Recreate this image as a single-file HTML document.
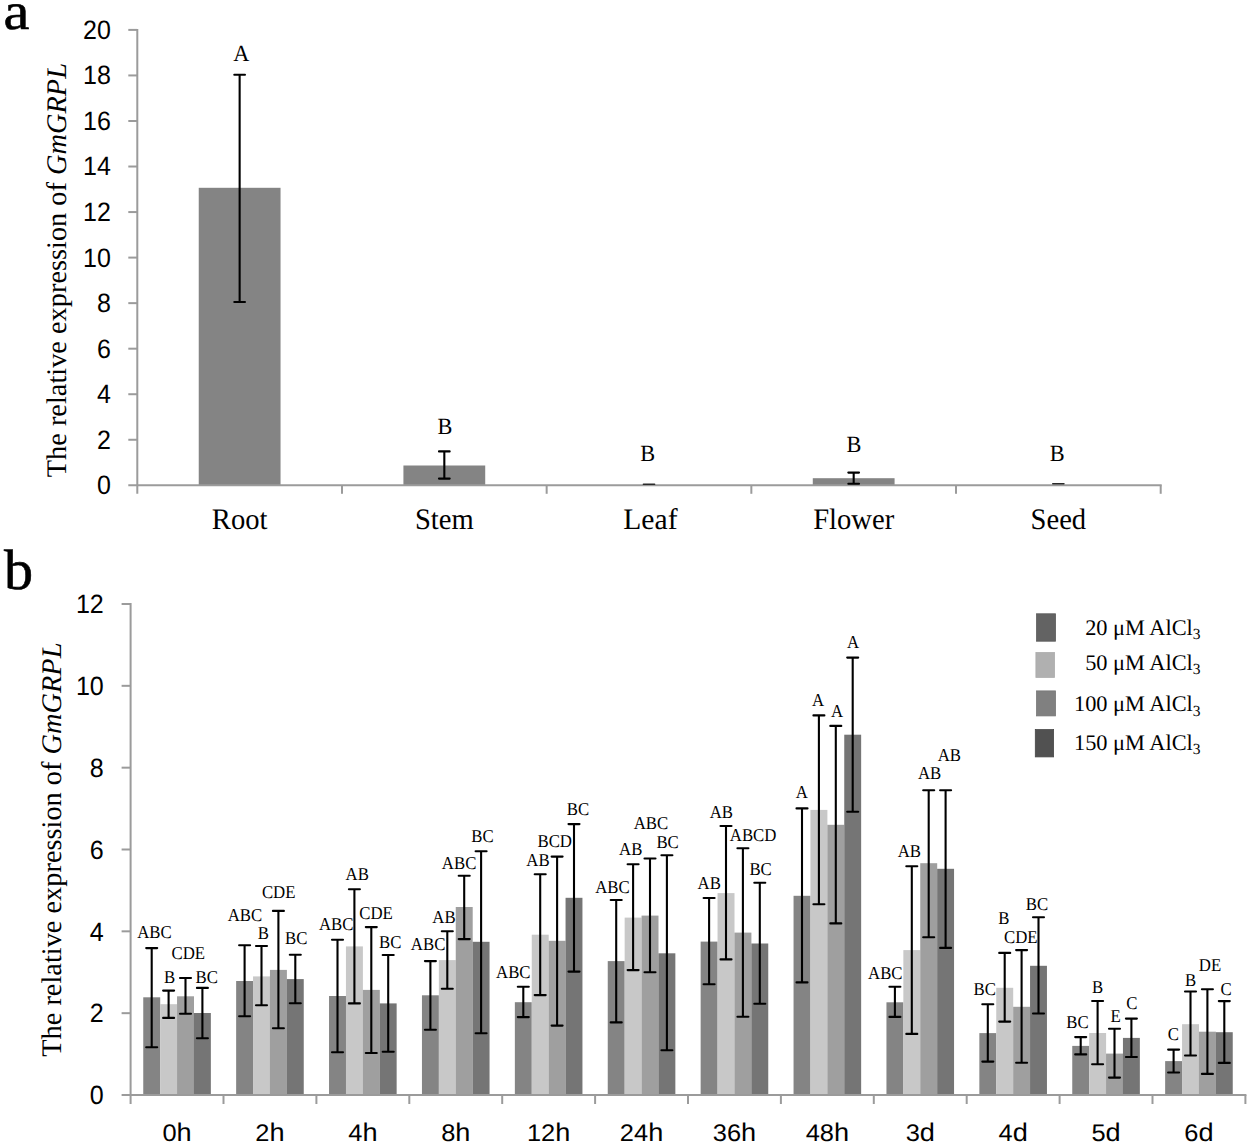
<!DOCTYPE html>
<html><head><meta charset="utf-8"><title>GmGRPL expression</title>
<style>
html,body{margin:0;padding:0;background:#fff;overflow:hidden;}
svg{display:block;}
text{fill:#000;text-rendering:geometricPrecision;}
</style></head>
<body>
<svg width="1250" height="1145" viewBox="0 0 1250 1145">
<rect x="0" y="0" width="1250" height="1145" fill="#ffffff"/>
<rect x="198.74" y="187.80" width="81.80" height="297.50" fill="#848484"/>
<rect x="403.42" y="465.50" width="81.80" height="19.80" fill="#848484"/>
<rect x="812.78" y="478.20" width="81.80" height="7.10" fill="#848484"/>
<line x1="137.30" y1="28.90" x2="137.30" y2="493.80" stroke="#9b9b9b" stroke-width="2.0"/>
<line x1="128.30" y1="485.30" x2="1161.70" y2="485.30" stroke="#9b9b9b" stroke-width="2.0"/>
<text transform="translate(110.90,494.20) scale(0.94,1)" font-family='"Liberation Sans", sans-serif' font-size="26.6" text-anchor="end">0</text>
<line x1="128.30" y1="439.76" x2="137.30" y2="439.76" stroke="#9b9b9b" stroke-width="2.0"/>
<text transform="translate(110.90,448.66) scale(0.94,1)" font-family='"Liberation Sans", sans-serif' font-size="26.6" text-anchor="end">2</text>
<line x1="128.30" y1="394.22" x2="137.30" y2="394.22" stroke="#9b9b9b" stroke-width="2.0"/>
<text transform="translate(110.90,403.12) scale(0.94,1)" font-family='"Liberation Sans", sans-serif' font-size="26.6" text-anchor="end">4</text>
<line x1="128.30" y1="348.68" x2="137.30" y2="348.68" stroke="#9b9b9b" stroke-width="2.0"/>
<text transform="translate(110.90,357.58) scale(0.94,1)" font-family='"Liberation Sans", sans-serif' font-size="26.6" text-anchor="end">6</text>
<line x1="128.30" y1="303.14" x2="137.30" y2="303.14" stroke="#9b9b9b" stroke-width="2.0"/>
<text transform="translate(110.90,312.04) scale(0.94,1)" font-family='"Liberation Sans", sans-serif' font-size="26.6" text-anchor="end">8</text>
<line x1="128.30" y1="257.60" x2="137.30" y2="257.60" stroke="#9b9b9b" stroke-width="2.0"/>
<text transform="translate(110.90,266.50) scale(0.94,1)" font-family='"Liberation Sans", sans-serif' font-size="26.6" text-anchor="end">10</text>
<line x1="128.30" y1="212.06" x2="137.30" y2="212.06" stroke="#9b9b9b" stroke-width="2.0"/>
<text transform="translate(110.90,220.96) scale(0.94,1)" font-family='"Liberation Sans", sans-serif' font-size="26.6" text-anchor="end">12</text>
<line x1="128.30" y1="166.52" x2="137.30" y2="166.52" stroke="#9b9b9b" stroke-width="2.0"/>
<text transform="translate(110.90,175.42) scale(0.94,1)" font-family='"Liberation Sans", sans-serif' font-size="26.6" text-anchor="end">14</text>
<line x1="128.30" y1="120.98" x2="137.30" y2="120.98" stroke="#9b9b9b" stroke-width="2.0"/>
<text transform="translate(110.90,129.88) scale(0.94,1)" font-family='"Liberation Sans", sans-serif' font-size="26.6" text-anchor="end">16</text>
<line x1="128.30" y1="75.44" x2="137.30" y2="75.44" stroke="#9b9b9b" stroke-width="2.0"/>
<text transform="translate(110.90,84.34) scale(0.94,1)" font-family='"Liberation Sans", sans-serif' font-size="26.6" text-anchor="end">18</text>
<line x1="128.30" y1="29.90" x2="137.30" y2="29.90" stroke="#9b9b9b" stroke-width="2.0"/>
<text transform="translate(110.90,38.80) scale(0.94,1)" font-family='"Liberation Sans", sans-serif' font-size="26.6" text-anchor="end">20</text>
<line x1="341.98" y1="485.30" x2="341.98" y2="493.80" stroke="#9b9b9b" stroke-width="2.0"/>
<line x1="546.66" y1="485.30" x2="546.66" y2="493.80" stroke="#9b9b9b" stroke-width="2.0"/>
<line x1="751.34" y1="485.30" x2="751.34" y2="493.80" stroke="#9b9b9b" stroke-width="2.0"/>
<line x1="956.02" y1="485.30" x2="956.02" y2="493.80" stroke="#9b9b9b" stroke-width="2.0"/>
<line x1="1160.70" y1="485.30" x2="1160.70" y2="493.80" stroke="#9b9b9b" stroke-width="2.0"/>
<line x1="239.64" y1="74.80" x2="239.64" y2="302.00" stroke="#000" stroke-width="2.1"/>
<line x1="234.29" y1="74.80" x2="244.99" y2="74.80" stroke="#000" stroke-width="2.1" stroke-linecap="round"/>
<line x1="234.29" y1="302.00" x2="244.99" y2="302.00" stroke="#000" stroke-width="2.1" stroke-linecap="round"/>
<text transform="translate(241.20,60.90) scale(1,1.04)" font-family='"Liberation Serif", serif' font-size="22.3" text-anchor="middle">A</text>
<text transform="translate(239.64,529.20) scale(1,1.04)" font-family='"Liberation Serif", serif' font-size="28.6" text-anchor="middle">Root</text>
<line x1="444.32" y1="451.40" x2="444.32" y2="478.60" stroke="#000" stroke-width="2.1"/>
<line x1="438.97" y1="451.40" x2="449.67" y2="451.40" stroke="#000" stroke-width="2.1" stroke-linecap="round"/>
<line x1="438.97" y1="478.60" x2="449.67" y2="478.60" stroke="#000" stroke-width="2.1" stroke-linecap="round"/>
<text transform="translate(445.00,433.60) scale(1,1.04)" font-family='"Liberation Serif", serif' font-size="22.3" text-anchor="middle">B</text>
<text transform="translate(444.32,529.20) scale(1,1.04)" font-family='"Liberation Serif", serif' font-size="28.6" text-anchor="middle">Stem</text>
<line x1="643.40" y1="484.30" x2="654.60" y2="484.30" stroke="#2a2a2a" stroke-width="1.5" stroke-linecap="round"/>
<text transform="translate(647.60,461.40) scale(1,1.04)" font-family='"Liberation Serif", serif' font-size="22.3" text-anchor="middle">B</text>
<text transform="translate(650.40,529.20) scale(1.035,1.04)" font-family='"Liberation Serif", serif' font-size="28.6" text-anchor="middle">Leaf</text>
<line x1="853.68" y1="472.60" x2="853.68" y2="483.80" stroke="#000" stroke-width="2.1"/>
<line x1="848.33" y1="472.60" x2="859.03" y2="472.60" stroke="#000" stroke-width="2.1" stroke-linecap="round"/>
<line x1="848.33" y1="483.80" x2="859.03" y2="483.80" stroke="#000" stroke-width="2.1" stroke-linecap="round"/>
<text transform="translate(853.90,451.70) scale(1,1.04)" font-family='"Liberation Serif", serif' font-size="22.3" text-anchor="middle">B</text>
<text transform="translate(853.68,529.20) scale(1,1.04)" font-family='"Liberation Serif", serif' font-size="28.6" text-anchor="middle">Flower</text>
<line x1="1052.76" y1="483.70" x2="1063.96" y2="483.70" stroke="#2a2a2a" stroke-width="1.5" stroke-linecap="round"/>
<text transform="translate(1057.20,461.30) scale(1,1.04)" font-family='"Liberation Serif", serif' font-size="22.3" text-anchor="middle">B</text>
<text transform="translate(1058.36,529.20) scale(1,1.04)" font-family='"Liberation Serif", serif' font-size="28.6" text-anchor="middle">Seed</text>
<text transform="translate(3.6,28.8) scale(1.11,1)" font-family='"Liberation Serif", serif' font-size="52.5" stroke="#000" stroke-width="0.6">a</text>
<text transform="translate(66.4,477.3) rotate(-90)" font-family='"Liberation Serif", serif' font-size="28.37" text-anchor="start">The relative expression of <tspan font-style="italic">GmGRPL</tspan></text>
<rect x="143.25" y="997.30" width="16.95" height="97.70" fill="#848484"/>
<rect x="160.15" y="1004.20" width="16.95" height="90.80" fill="#c8c8c8"/>
<rect x="177.05" y="996.30" width="16.95" height="98.70" fill="#9f9f9f"/>
<rect x="193.95" y="1013.00" width="16.90" height="82.00" fill="#757575"/>
<rect x="236.15" y="981.00" width="16.95" height="114.00" fill="#848484"/>
<rect x="253.05" y="976.40" width="16.95" height="118.60" fill="#c8c8c8"/>
<rect x="269.95" y="969.90" width="16.95" height="125.10" fill="#9f9f9f"/>
<rect x="286.85" y="979.10" width="16.90" height="115.90" fill="#757575"/>
<rect x="329.05" y="996.00" width="16.95" height="99.00" fill="#848484"/>
<rect x="345.95" y="946.40" width="16.95" height="148.60" fill="#c8c8c8"/>
<rect x="362.85" y="989.90" width="16.95" height="105.10" fill="#9f9f9f"/>
<rect x="379.75" y="1003.40" width="16.90" height="91.60" fill="#757575"/>
<rect x="421.95" y="995.30" width="16.95" height="99.70" fill="#848484"/>
<rect x="438.85" y="960.10" width="16.95" height="134.90" fill="#c8c8c8"/>
<rect x="455.75" y="907.00" width="16.95" height="188.00" fill="#9f9f9f"/>
<rect x="472.65" y="941.80" width="16.90" height="153.20" fill="#757575"/>
<rect x="514.85" y="1002.20" width="16.95" height="92.80" fill="#848484"/>
<rect x="531.75" y="934.70" width="16.95" height="160.30" fill="#c8c8c8"/>
<rect x="548.65" y="940.80" width="16.95" height="154.20" fill="#9f9f9f"/>
<rect x="565.55" y="897.80" width="16.90" height="197.20" fill="#757575"/>
<rect x="607.75" y="961.10" width="16.95" height="133.90" fill="#848484"/>
<rect x="624.65" y="917.60" width="16.95" height="177.40" fill="#c8c8c8"/>
<rect x="641.55" y="915.60" width="16.95" height="179.40" fill="#9f9f9f"/>
<rect x="658.45" y="953.30" width="16.90" height="141.70" fill="#757575"/>
<rect x="700.65" y="941.60" width="16.95" height="153.40" fill="#848484"/>
<rect x="717.55" y="893.10" width="16.95" height="201.90" fill="#c8c8c8"/>
<rect x="734.45" y="932.60" width="16.95" height="162.40" fill="#9f9f9f"/>
<rect x="751.35" y="943.50" width="16.90" height="151.50" fill="#757575"/>
<rect x="793.55" y="895.80" width="16.95" height="199.20" fill="#848484"/>
<rect x="810.45" y="809.90" width="16.95" height="285.10" fill="#c8c8c8"/>
<rect x="827.35" y="824.80" width="16.95" height="270.20" fill="#9f9f9f"/>
<rect x="844.25" y="734.70" width="16.90" height="360.30" fill="#757575"/>
<rect x="886.45" y="1002.30" width="16.95" height="92.70" fill="#848484"/>
<rect x="903.35" y="950.10" width="16.95" height="144.90" fill="#c8c8c8"/>
<rect x="920.25" y="863.20" width="16.95" height="231.80" fill="#9f9f9f"/>
<rect x="937.15" y="868.80" width="16.90" height="226.20" fill="#757575"/>
<rect x="979.35" y="1033.10" width="16.95" height="61.90" fill="#848484"/>
<rect x="996.25" y="987.80" width="16.95" height="107.20" fill="#c8c8c8"/>
<rect x="1013.15" y="1006.80" width="16.95" height="88.20" fill="#9f9f9f"/>
<rect x="1030.05" y="965.80" width="16.90" height="129.20" fill="#757575"/>
<rect x="1072.25" y="1045.90" width="16.95" height="49.10" fill="#848484"/>
<rect x="1089.15" y="1033.00" width="16.95" height="62.00" fill="#c8c8c8"/>
<rect x="1106.05" y="1053.60" width="16.95" height="41.40" fill="#9f9f9f"/>
<rect x="1122.95" y="1037.90" width="16.90" height="57.10" fill="#757575"/>
<rect x="1165.15" y="1061.10" width="16.95" height="33.90" fill="#848484"/>
<rect x="1182.05" y="1024.20" width="16.95" height="70.80" fill="#c8c8c8"/>
<rect x="1198.95" y="1031.70" width="16.95" height="63.30" fill="#9f9f9f"/>
<rect x="1215.85" y="1032.20" width="16.90" height="62.80" fill="#757575"/>
<line x1="130.60" y1="603.00" x2="130.60" y2="1104.00" stroke="#9b9b9b" stroke-width="2.0"/>
<line x1="121.60" y1="1095.00" x2="1246.40" y2="1095.00" stroke="#9b9b9b" stroke-width="2.0"/>
<text transform="translate(103.80,1104.20) scale(0.95,1)" font-family='"Liberation Sans", sans-serif' font-size="26.4" text-anchor="end">0</text>
<line x1="121.60" y1="1013.17" x2="130.60" y2="1013.17" stroke="#9b9b9b" stroke-width="2.0"/>
<text transform="translate(103.80,1022.37) scale(0.95,1)" font-family='"Liberation Sans", sans-serif' font-size="26.4" text-anchor="end">2</text>
<line x1="121.60" y1="931.33" x2="130.60" y2="931.33" stroke="#9b9b9b" stroke-width="2.0"/>
<text transform="translate(103.80,940.53) scale(0.95,1)" font-family='"Liberation Sans", sans-serif' font-size="26.4" text-anchor="end">4</text>
<line x1="121.60" y1="849.50" x2="130.60" y2="849.50" stroke="#9b9b9b" stroke-width="2.0"/>
<text transform="translate(103.80,858.70) scale(0.95,1)" font-family='"Liberation Sans", sans-serif' font-size="26.4" text-anchor="end">6</text>
<line x1="121.60" y1="767.67" x2="130.60" y2="767.67" stroke="#9b9b9b" stroke-width="2.0"/>
<text transform="translate(103.80,776.87) scale(0.95,1)" font-family='"Liberation Sans", sans-serif' font-size="26.4" text-anchor="end">8</text>
<line x1="121.60" y1="685.83" x2="130.60" y2="685.83" stroke="#9b9b9b" stroke-width="2.0"/>
<text transform="translate(103.80,695.03) scale(0.95,1)" font-family='"Liberation Sans", sans-serif' font-size="26.4" text-anchor="end">10</text>
<line x1="121.60" y1="604.00" x2="130.60" y2="604.00" stroke="#9b9b9b" stroke-width="2.0"/>
<text transform="translate(103.80,613.20) scale(0.95,1)" font-family='"Liberation Sans", sans-serif' font-size="26.4" text-anchor="end">12</text>
<line x1="223.50" y1="1095.00" x2="223.50" y2="1104.00" stroke="#9b9b9b" stroke-width="2.0"/>
<line x1="316.40" y1="1095.00" x2="316.40" y2="1104.00" stroke="#9b9b9b" stroke-width="2.0"/>
<line x1="409.30" y1="1095.00" x2="409.30" y2="1104.00" stroke="#9b9b9b" stroke-width="2.0"/>
<line x1="502.20" y1="1095.00" x2="502.20" y2="1104.00" stroke="#9b9b9b" stroke-width="2.0"/>
<line x1="595.10" y1="1095.00" x2="595.10" y2="1104.00" stroke="#9b9b9b" stroke-width="2.0"/>
<line x1="688.00" y1="1095.00" x2="688.00" y2="1104.00" stroke="#9b9b9b" stroke-width="2.0"/>
<line x1="780.90" y1="1095.00" x2="780.90" y2="1104.00" stroke="#9b9b9b" stroke-width="2.0"/>
<line x1="873.80" y1="1095.00" x2="873.80" y2="1104.00" stroke="#9b9b9b" stroke-width="2.0"/>
<line x1="966.70" y1="1095.00" x2="966.70" y2="1104.00" stroke="#9b9b9b" stroke-width="2.0"/>
<line x1="1059.60" y1="1095.00" x2="1059.60" y2="1104.00" stroke="#9b9b9b" stroke-width="2.0"/>
<line x1="1152.50" y1="1095.00" x2="1152.50" y2="1104.00" stroke="#9b9b9b" stroke-width="2.0"/>
<line x1="1245.40" y1="1095.00" x2="1245.40" y2="1104.00" stroke="#9b9b9b" stroke-width="2.0"/>
<line x1="151.70" y1="948.10" x2="151.70" y2="1047.20" stroke="#000" stroke-width="2.1"/>
<line x1="146.20" y1="948.10" x2="157.20" y2="948.10" stroke="#000" stroke-width="2.1" stroke-linecap="round"/>
<line x1="146.20" y1="1047.20" x2="157.20" y2="1047.20" stroke="#000" stroke-width="2.1" stroke-linecap="round"/>
<text transform="translate(154.40,938.10) scale(1,1.08)" font-family='"Liberation Serif", serif' font-size="16.8" text-anchor="middle">ABC</text>
<line x1="168.60" y1="990.60" x2="168.60" y2="1017.90" stroke="#000" stroke-width="2.1"/>
<line x1="163.10" y1="990.60" x2="174.10" y2="990.60" stroke="#000" stroke-width="2.1" stroke-linecap="round"/>
<line x1="163.10" y1="1017.90" x2="174.10" y2="1017.90" stroke="#000" stroke-width="2.1" stroke-linecap="round"/>
<text transform="translate(169.70,982.70) scale(1,1.08)" font-family='"Liberation Serif", serif' font-size="16.8" text-anchor="middle">B</text>
<line x1="185.50" y1="978.00" x2="185.50" y2="1013.70" stroke="#000" stroke-width="2.1"/>
<line x1="180.00" y1="978.00" x2="191.00" y2="978.00" stroke="#000" stroke-width="2.1" stroke-linecap="round"/>
<line x1="180.00" y1="1013.70" x2="191.00" y2="1013.70" stroke="#000" stroke-width="2.1" stroke-linecap="round"/>
<text transform="translate(188.30,958.60) scale(1,1.08)" font-family='"Liberation Serif", serif' font-size="16.8" text-anchor="middle">CDE</text>
<line x1="202.40" y1="987.90" x2="202.40" y2="1038.20" stroke="#000" stroke-width="2.1"/>
<line x1="196.90" y1="987.90" x2="207.90" y2="987.90" stroke="#000" stroke-width="2.1" stroke-linecap="round"/>
<line x1="196.90" y1="1038.20" x2="207.90" y2="1038.20" stroke="#000" stroke-width="2.1" stroke-linecap="round"/>
<text transform="translate(206.80,983.10) scale(1,1.08)" font-family='"Liberation Serif", serif' font-size="16.8" text-anchor="middle">BC</text>
<text transform="translate(177.05,1140.80) scale(1.06,1)" font-family='"Liberation Sans", sans-serif' font-size="24" text-anchor="middle">0<tspan font-size="25.6">h</tspan></text>
<line x1="244.60" y1="945.30" x2="244.60" y2="1016.20" stroke="#000" stroke-width="2.1"/>
<line x1="239.10" y1="945.30" x2="250.10" y2="945.30" stroke="#000" stroke-width="2.1" stroke-linecap="round"/>
<line x1="239.10" y1="1016.20" x2="250.10" y2="1016.20" stroke="#000" stroke-width="2.1" stroke-linecap="round"/>
<text transform="translate(244.90,920.90) scale(1,1.08)" font-family='"Liberation Serif", serif' font-size="16.8" text-anchor="middle">ABC</text>
<line x1="261.50" y1="946.00" x2="261.50" y2="1005.30" stroke="#000" stroke-width="2.1"/>
<line x1="256.00" y1="946.00" x2="267.00" y2="946.00" stroke="#000" stroke-width="2.1" stroke-linecap="round"/>
<line x1="256.00" y1="1005.30" x2="267.00" y2="1005.30" stroke="#000" stroke-width="2.1" stroke-linecap="round"/>
<text transform="translate(263.40,939.10) scale(1,1.08)" font-family='"Liberation Serif", serif' font-size="16.8" text-anchor="middle">B</text>
<line x1="278.40" y1="910.90" x2="278.40" y2="1028.30" stroke="#000" stroke-width="2.1"/>
<line x1="272.90" y1="910.90" x2="283.90" y2="910.90" stroke="#000" stroke-width="2.1" stroke-linecap="round"/>
<line x1="272.90" y1="1028.30" x2="283.90" y2="1028.30" stroke="#000" stroke-width="2.1" stroke-linecap="round"/>
<text transform="translate(278.70,898.20) scale(1,1.08)" font-family='"Liberation Serif", serif' font-size="16.8" text-anchor="middle">CDE</text>
<line x1="295.30" y1="954.80" x2="295.30" y2="1003.20" stroke="#000" stroke-width="2.1"/>
<line x1="289.80" y1="954.80" x2="300.80" y2="954.80" stroke="#000" stroke-width="2.1" stroke-linecap="round"/>
<line x1="289.80" y1="1003.20" x2="300.80" y2="1003.20" stroke="#000" stroke-width="2.1" stroke-linecap="round"/>
<text transform="translate(296.30,943.70) scale(1,1.08)" font-family='"Liberation Serif", serif' font-size="16.8" text-anchor="middle">BC</text>
<text transform="translate(269.95,1140.80) scale(1.06,1)" font-family='"Liberation Sans", sans-serif' font-size="24" text-anchor="middle">2<tspan font-size="25.6">h</tspan></text>
<line x1="337.50" y1="939.80" x2="337.50" y2="1052.30" stroke="#000" stroke-width="2.1"/>
<line x1="332.00" y1="939.80" x2="343.00" y2="939.80" stroke="#000" stroke-width="2.1" stroke-linecap="round"/>
<line x1="332.00" y1="1052.30" x2="343.00" y2="1052.30" stroke="#000" stroke-width="2.1" stroke-linecap="round"/>
<text transform="translate(336.20,929.80) scale(1,1.08)" font-family='"Liberation Serif", serif' font-size="16.8" text-anchor="middle">ABC</text>
<line x1="354.40" y1="889.20" x2="354.40" y2="1003.40" stroke="#000" stroke-width="2.1"/>
<line x1="348.90" y1="889.20" x2="359.90" y2="889.20" stroke="#000" stroke-width="2.1" stroke-linecap="round"/>
<line x1="348.90" y1="1003.40" x2="359.90" y2="1003.40" stroke="#000" stroke-width="2.1" stroke-linecap="round"/>
<text transform="translate(357.20,879.70) scale(1,1.08)" font-family='"Liberation Serif", serif' font-size="16.8" text-anchor="middle">AB</text>
<line x1="371.30" y1="927.10" x2="371.30" y2="1053.00" stroke="#000" stroke-width="2.1"/>
<line x1="365.80" y1="927.10" x2="376.80" y2="927.10" stroke="#000" stroke-width="2.1" stroke-linecap="round"/>
<line x1="365.80" y1="1053.00" x2="376.80" y2="1053.00" stroke="#000" stroke-width="2.1" stroke-linecap="round"/>
<text transform="translate(376.00,919.00) scale(1,1.08)" font-family='"Liberation Serif", serif' font-size="16.8" text-anchor="middle">CDE</text>
<line x1="388.20" y1="955.00" x2="388.20" y2="1051.80" stroke="#000" stroke-width="2.1"/>
<line x1="382.70" y1="955.00" x2="393.70" y2="955.00" stroke="#000" stroke-width="2.1" stroke-linecap="round"/>
<line x1="382.70" y1="1051.80" x2="393.70" y2="1051.80" stroke="#000" stroke-width="2.1" stroke-linecap="round"/>
<text transform="translate(390.20,948.40) scale(1,1.08)" font-family='"Liberation Serif", serif' font-size="16.8" text-anchor="middle">BC</text>
<text transform="translate(362.85,1140.80) scale(1.06,1)" font-family='"Liberation Sans", sans-serif' font-size="24" text-anchor="middle">4<tspan font-size="25.6">h</tspan></text>
<line x1="430.40" y1="961.10" x2="430.40" y2="1029.80" stroke="#000" stroke-width="2.1"/>
<line x1="424.90" y1="961.10" x2="435.90" y2="961.10" stroke="#000" stroke-width="2.1" stroke-linecap="round"/>
<line x1="424.90" y1="1029.80" x2="435.90" y2="1029.80" stroke="#000" stroke-width="2.1" stroke-linecap="round"/>
<text transform="translate(428.10,950.10) scale(1,1.08)" font-family='"Liberation Serif", serif' font-size="16.8" text-anchor="middle">ABC</text>
<line x1="447.30" y1="931.20" x2="447.30" y2="988.70" stroke="#000" stroke-width="2.1"/>
<line x1="441.80" y1="931.20" x2="452.80" y2="931.20" stroke="#000" stroke-width="2.1" stroke-linecap="round"/>
<line x1="441.80" y1="988.70" x2="452.80" y2="988.70" stroke="#000" stroke-width="2.1" stroke-linecap="round"/>
<text transform="translate(444.00,922.50) scale(1,1.08)" font-family='"Liberation Serif", serif' font-size="16.8" text-anchor="middle">AB</text>
<line x1="464.20" y1="875.70" x2="464.20" y2="939.10" stroke="#000" stroke-width="2.1"/>
<line x1="458.70" y1="875.70" x2="469.70" y2="875.70" stroke="#000" stroke-width="2.1" stroke-linecap="round"/>
<line x1="458.70" y1="939.10" x2="469.70" y2="939.10" stroke="#000" stroke-width="2.1" stroke-linecap="round"/>
<text transform="translate(459.10,868.70) scale(1,1.08)" font-family='"Liberation Serif", serif' font-size="16.8" text-anchor="middle">ABC</text>
<line x1="481.10" y1="851.30" x2="481.10" y2="1033.20" stroke="#000" stroke-width="2.1"/>
<line x1="475.60" y1="851.30" x2="486.60" y2="851.30" stroke="#000" stroke-width="2.1" stroke-linecap="round"/>
<line x1="475.60" y1="1033.20" x2="486.60" y2="1033.20" stroke="#000" stroke-width="2.1" stroke-linecap="round"/>
<text transform="translate(482.40,841.80) scale(1,1.08)" font-family='"Liberation Serif", serif' font-size="16.8" text-anchor="middle">BC</text>
<text transform="translate(455.75,1140.80) scale(1.06,1)" font-family='"Liberation Sans", sans-serif' font-size="24" text-anchor="middle">8<tspan font-size="25.6">h</tspan></text>
<line x1="523.30" y1="986.70" x2="523.30" y2="1017.10" stroke="#000" stroke-width="2.1"/>
<line x1="517.80" y1="986.70" x2="528.80" y2="986.70" stroke="#000" stroke-width="2.1" stroke-linecap="round"/>
<line x1="517.80" y1="1017.10" x2="528.80" y2="1017.10" stroke="#000" stroke-width="2.1" stroke-linecap="round"/>
<text transform="translate(513.30,977.70) scale(1,1.08)" font-family='"Liberation Serif", serif' font-size="16.8" text-anchor="middle">ABC</text>
<line x1="540.20" y1="874.30" x2="540.20" y2="995.10" stroke="#000" stroke-width="2.1"/>
<line x1="534.70" y1="874.30" x2="545.70" y2="874.30" stroke="#000" stroke-width="2.1" stroke-linecap="round"/>
<line x1="534.70" y1="995.10" x2="545.70" y2="995.10" stroke="#000" stroke-width="2.1" stroke-linecap="round"/>
<text transform="translate(538.00,865.70) scale(1,1.08)" font-family='"Liberation Serif", serif' font-size="16.8" text-anchor="middle">AB</text>
<line x1="557.10" y1="856.60" x2="557.10" y2="1025.60" stroke="#000" stroke-width="2.1"/>
<line x1="551.60" y1="856.60" x2="562.60" y2="856.60" stroke="#000" stroke-width="2.1" stroke-linecap="round"/>
<line x1="551.60" y1="1025.60" x2="562.60" y2="1025.60" stroke="#000" stroke-width="2.1" stroke-linecap="round"/>
<text transform="translate(554.70,846.90) scale(1,1.08)" font-family='"Liberation Serif", serif' font-size="16.8" text-anchor="middle">BCD</text>
<line x1="574.00" y1="824.10" x2="574.00" y2="971.60" stroke="#000" stroke-width="2.1"/>
<line x1="568.50" y1="824.10" x2="579.50" y2="824.10" stroke="#000" stroke-width="2.1" stroke-linecap="round"/>
<line x1="568.50" y1="971.60" x2="579.50" y2="971.60" stroke="#000" stroke-width="2.1" stroke-linecap="round"/>
<text transform="translate(577.90,815.40) scale(1,1.08)" font-family='"Liberation Serif", serif' font-size="16.8" text-anchor="middle">BC</text>
<text transform="translate(548.65,1140.80) scale(1.06,1)" font-family='"Liberation Sans", sans-serif' font-size="24" text-anchor="middle">12<tspan font-size="25.6">h</tspan></text>
<line x1="616.20" y1="900.00" x2="616.20" y2="1022.40" stroke="#000" stroke-width="2.1"/>
<line x1="610.70" y1="900.00" x2="621.70" y2="900.00" stroke="#000" stroke-width="2.1" stroke-linecap="round"/>
<line x1="610.70" y1="1022.40" x2="621.70" y2="1022.40" stroke="#000" stroke-width="2.1" stroke-linecap="round"/>
<text transform="translate(612.50,892.50) scale(1,1.08)" font-family='"Liberation Serif", serif' font-size="16.8" text-anchor="middle">ABC</text>
<line x1="633.10" y1="864.20" x2="633.10" y2="970.10" stroke="#000" stroke-width="2.1"/>
<line x1="627.60" y1="864.20" x2="638.60" y2="864.20" stroke="#000" stroke-width="2.1" stroke-linecap="round"/>
<line x1="627.60" y1="970.10" x2="638.60" y2="970.10" stroke="#000" stroke-width="2.1" stroke-linecap="round"/>
<text transform="translate(630.70,855.00) scale(1,1.08)" font-family='"Liberation Serif", serif' font-size="16.8" text-anchor="middle">AB</text>
<line x1="650.00" y1="858.50" x2="650.00" y2="972.30" stroke="#000" stroke-width="2.1"/>
<line x1="644.50" y1="858.50" x2="655.50" y2="858.50" stroke="#000" stroke-width="2.1" stroke-linecap="round"/>
<line x1="644.50" y1="972.30" x2="655.50" y2="972.30" stroke="#000" stroke-width="2.1" stroke-linecap="round"/>
<text transform="translate(651.00,829.30) scale(1,1.08)" font-family='"Liberation Serif", serif' font-size="16.8" text-anchor="middle">ABC</text>
<line x1="666.90" y1="855.30" x2="666.90" y2="1050.30" stroke="#000" stroke-width="2.1"/>
<line x1="661.40" y1="855.30" x2="672.40" y2="855.30" stroke="#000" stroke-width="2.1" stroke-linecap="round"/>
<line x1="661.40" y1="1050.30" x2="672.40" y2="1050.30" stroke="#000" stroke-width="2.1" stroke-linecap="round"/>
<text transform="translate(667.60,848.20) scale(1,1.08)" font-family='"Liberation Serif", serif' font-size="16.8" text-anchor="middle">BC</text>
<text transform="translate(641.55,1140.80) scale(1.06,1)" font-family='"Liberation Sans", sans-serif' font-size="24" text-anchor="middle">24<tspan font-size="25.6">h</tspan></text>
<line x1="709.10" y1="898.00" x2="709.10" y2="984.30" stroke="#000" stroke-width="2.1"/>
<line x1="703.60" y1="898.00" x2="714.60" y2="898.00" stroke="#000" stroke-width="2.1" stroke-linecap="round"/>
<line x1="703.60" y1="984.30" x2="714.60" y2="984.30" stroke="#000" stroke-width="2.1" stroke-linecap="round"/>
<text transform="translate(709.20,888.50) scale(1,1.08)" font-family='"Liberation Serif", serif' font-size="16.8" text-anchor="middle">AB</text>
<line x1="726.00" y1="826.00" x2="726.00" y2="959.40" stroke="#000" stroke-width="2.1"/>
<line x1="720.50" y1="826.00" x2="731.50" y2="826.00" stroke="#000" stroke-width="2.1" stroke-linecap="round"/>
<line x1="720.50" y1="959.40" x2="731.50" y2="959.40" stroke="#000" stroke-width="2.1" stroke-linecap="round"/>
<text transform="translate(721.40,817.60) scale(1,1.08)" font-family='"Liberation Serif", serif' font-size="16.8" text-anchor="middle">AB</text>
<line x1="742.90" y1="848.20" x2="742.90" y2="1016.80" stroke="#000" stroke-width="2.1"/>
<line x1="737.40" y1="848.20" x2="748.40" y2="848.20" stroke="#000" stroke-width="2.1" stroke-linecap="round"/>
<line x1="737.40" y1="1016.80" x2="748.40" y2="1016.80" stroke="#000" stroke-width="2.1" stroke-linecap="round"/>
<text transform="translate(753.10,840.60) scale(1,1.08)" font-family='"Liberation Serif", serif' font-size="16.8" text-anchor="middle">ABCD</text>
<line x1="759.80" y1="882.80" x2="759.80" y2="1003.80" stroke="#000" stroke-width="2.1"/>
<line x1="754.30" y1="882.80" x2="765.30" y2="882.80" stroke="#000" stroke-width="2.1" stroke-linecap="round"/>
<line x1="754.30" y1="1003.80" x2="765.30" y2="1003.80" stroke="#000" stroke-width="2.1" stroke-linecap="round"/>
<text transform="translate(760.60,875.20) scale(1,1.08)" font-family='"Liberation Serif", serif' font-size="16.8" text-anchor="middle">BC</text>
<text transform="translate(734.45,1140.80) scale(1.06,1)" font-family='"Liberation Sans", sans-serif' font-size="24" text-anchor="middle">36<tspan font-size="25.6">h</tspan></text>
<line x1="802.00" y1="808.40" x2="802.00" y2="982.40" stroke="#000" stroke-width="2.1"/>
<line x1="796.50" y1="808.40" x2="807.50" y2="808.40" stroke="#000" stroke-width="2.1" stroke-linecap="round"/>
<line x1="796.50" y1="982.40" x2="807.50" y2="982.40" stroke="#000" stroke-width="2.1" stroke-linecap="round"/>
<text transform="translate(801.70,798.00) scale(1,1.08)" font-family='"Liberation Serif", serif' font-size="16.8" text-anchor="middle">A</text>
<line x1="818.90" y1="715.40" x2="818.90" y2="904.20" stroke="#000" stroke-width="2.1"/>
<line x1="813.40" y1="715.40" x2="824.40" y2="715.40" stroke="#000" stroke-width="2.1" stroke-linecap="round"/>
<line x1="813.40" y1="904.20" x2="824.40" y2="904.20" stroke="#000" stroke-width="2.1" stroke-linecap="round"/>
<text transform="translate(818.10,705.50) scale(1,1.08)" font-family='"Liberation Serif", serif' font-size="16.8" text-anchor="middle">A</text>
<line x1="835.80" y1="725.90" x2="835.80" y2="923.40" stroke="#000" stroke-width="2.1"/>
<line x1="830.30" y1="725.90" x2="841.30" y2="725.90" stroke="#000" stroke-width="2.1" stroke-linecap="round"/>
<line x1="830.30" y1="923.40" x2="841.30" y2="923.40" stroke="#000" stroke-width="2.1" stroke-linecap="round"/>
<text transform="translate(837.00,716.60) scale(1,1.08)" font-family='"Liberation Serif", serif' font-size="16.8" text-anchor="middle">A</text>
<line x1="852.70" y1="657.60" x2="852.70" y2="811.80" stroke="#000" stroke-width="2.1"/>
<line x1="847.20" y1="657.60" x2="858.20" y2="657.60" stroke="#000" stroke-width="2.1" stroke-linecap="round"/>
<line x1="847.20" y1="811.80" x2="858.20" y2="811.80" stroke="#000" stroke-width="2.1" stroke-linecap="round"/>
<text transform="translate(853.10,648.40) scale(1,1.08)" font-family='"Liberation Serif", serif' font-size="16.8" text-anchor="middle">A</text>
<text transform="translate(827.35,1140.80) scale(1.06,1)" font-family='"Liberation Sans", sans-serif' font-size="24" text-anchor="middle">48<tspan font-size="25.6">h</tspan></text>
<line x1="894.90" y1="986.70" x2="894.90" y2="1016.90" stroke="#000" stroke-width="2.1"/>
<line x1="889.40" y1="986.70" x2="900.40" y2="986.70" stroke="#000" stroke-width="2.1" stroke-linecap="round"/>
<line x1="889.40" y1="1016.90" x2="900.40" y2="1016.90" stroke="#000" stroke-width="2.1" stroke-linecap="round"/>
<text transform="translate(885.30,978.80) scale(1,1.08)" font-family='"Liberation Serif", serif' font-size="16.8" text-anchor="middle">ABC</text>
<line x1="911.80" y1="866.30" x2="911.80" y2="1033.90" stroke="#000" stroke-width="2.1"/>
<line x1="906.30" y1="866.30" x2="917.30" y2="866.30" stroke="#000" stroke-width="2.1" stroke-linecap="round"/>
<line x1="906.30" y1="1033.90" x2="917.30" y2="1033.90" stroke="#000" stroke-width="2.1" stroke-linecap="round"/>
<text transform="translate(909.30,856.80) scale(1,1.08)" font-family='"Liberation Serif", serif' font-size="16.8" text-anchor="middle">AB</text>
<line x1="928.70" y1="790.20" x2="928.70" y2="937.30" stroke="#000" stroke-width="2.1"/>
<line x1="923.20" y1="790.20" x2="934.20" y2="790.20" stroke="#000" stroke-width="2.1" stroke-linecap="round"/>
<line x1="923.20" y1="937.30" x2="934.20" y2="937.30" stroke="#000" stroke-width="2.1" stroke-linecap="round"/>
<text transform="translate(929.60,778.80) scale(1,1.08)" font-family='"Liberation Serif", serif' font-size="16.8" text-anchor="middle">AB</text>
<line x1="945.60" y1="790.20" x2="945.60" y2="947.90" stroke="#000" stroke-width="2.1"/>
<line x1="940.10" y1="790.20" x2="951.10" y2="790.20" stroke="#000" stroke-width="2.1" stroke-linecap="round"/>
<line x1="940.10" y1="947.90" x2="951.10" y2="947.90" stroke="#000" stroke-width="2.1" stroke-linecap="round"/>
<text transform="translate(949.30,761.20) scale(1,1.08)" font-family='"Liberation Serif", serif' font-size="16.8" text-anchor="middle">AB</text>
<text transform="translate(920.25,1140.80) scale(1.06,1)" font-family='"Liberation Sans", sans-serif' font-size="24" text-anchor="middle">3<tspan font-size="25.6">d</tspan></text>
<line x1="987.80" y1="1004.30" x2="987.80" y2="1061.60" stroke="#000" stroke-width="2.1"/>
<line x1="982.30" y1="1004.30" x2="993.30" y2="1004.30" stroke="#000" stroke-width="2.1" stroke-linecap="round"/>
<line x1="982.30" y1="1061.60" x2="993.30" y2="1061.60" stroke="#000" stroke-width="2.1" stroke-linecap="round"/>
<text transform="translate(984.80,995.00) scale(1,1.08)" font-family='"Liberation Serif", serif' font-size="16.8" text-anchor="middle">BC</text>
<line x1="1004.70" y1="952.90" x2="1004.70" y2="1021.60" stroke="#000" stroke-width="2.1"/>
<line x1="999.20" y1="952.90" x2="1010.20" y2="952.90" stroke="#000" stroke-width="2.1" stroke-linecap="round"/>
<line x1="999.20" y1="1021.60" x2="1010.20" y2="1021.60" stroke="#000" stroke-width="2.1" stroke-linecap="round"/>
<text transform="translate(1003.80,923.50) scale(1,1.08)" font-family='"Liberation Serif", serif' font-size="16.8" text-anchor="middle">B</text>
<line x1="1021.60" y1="950.10" x2="1021.60" y2="1062.70" stroke="#000" stroke-width="2.1"/>
<line x1="1016.10" y1="950.10" x2="1027.10" y2="950.10" stroke="#000" stroke-width="2.1" stroke-linecap="round"/>
<line x1="1016.10" y1="1062.70" x2="1027.10" y2="1062.70" stroke="#000" stroke-width="2.1" stroke-linecap="round"/>
<text transform="translate(1020.80,942.50) scale(1,1.08)" font-family='"Liberation Serif", serif' font-size="16.8" text-anchor="middle">CDE</text>
<line x1="1038.50" y1="917.20" x2="1038.50" y2="1013.50" stroke="#000" stroke-width="2.1"/>
<line x1="1033.00" y1="917.20" x2="1044.00" y2="917.20" stroke="#000" stroke-width="2.1" stroke-linecap="round"/>
<line x1="1033.00" y1="1013.50" x2="1044.00" y2="1013.50" stroke="#000" stroke-width="2.1" stroke-linecap="round"/>
<text transform="translate(1037.00,909.80) scale(1,1.08)" font-family='"Liberation Serif", serif' font-size="16.8" text-anchor="middle">BC</text>
<text transform="translate(1013.15,1140.80) scale(1.06,1)" font-family='"Liberation Sans", sans-serif' font-size="24" text-anchor="middle">4<tspan font-size="25.6">d</tspan></text>
<line x1="1080.70" y1="1037.10" x2="1080.70" y2="1054.40" stroke="#000" stroke-width="2.1"/>
<line x1="1075.20" y1="1037.10" x2="1086.20" y2="1037.10" stroke="#000" stroke-width="2.1" stroke-linecap="round"/>
<line x1="1075.20" y1="1054.40" x2="1086.20" y2="1054.40" stroke="#000" stroke-width="2.1" stroke-linecap="round"/>
<text transform="translate(1077.50,1028.00) scale(1,1.08)" font-family='"Liberation Serif", serif' font-size="16.8" text-anchor="middle">BC</text>
<line x1="1097.60" y1="1001.00" x2="1097.60" y2="1064.20" stroke="#000" stroke-width="2.1"/>
<line x1="1092.10" y1="1001.00" x2="1103.10" y2="1001.00" stroke="#000" stroke-width="2.1" stroke-linecap="round"/>
<line x1="1092.10" y1="1064.20" x2="1103.10" y2="1064.20" stroke="#000" stroke-width="2.1" stroke-linecap="round"/>
<text transform="translate(1097.50,992.90) scale(1,1.08)" font-family='"Liberation Serif", serif' font-size="16.8" text-anchor="middle">B</text>
<line x1="1114.50" y1="1028.80" x2="1114.50" y2="1077.60" stroke="#000" stroke-width="2.1"/>
<line x1="1109.00" y1="1028.80" x2="1120.00" y2="1028.80" stroke="#000" stroke-width="2.1" stroke-linecap="round"/>
<line x1="1109.00" y1="1077.60" x2="1120.00" y2="1077.60" stroke="#000" stroke-width="2.1" stroke-linecap="round"/>
<text transform="translate(1115.60,1022.40) scale(1,1.08)" font-family='"Liberation Serif", serif' font-size="16.8" text-anchor="middle">E</text>
<line x1="1131.40" y1="1018.60" x2="1131.40" y2="1057.00" stroke="#000" stroke-width="2.1"/>
<line x1="1125.90" y1="1018.60" x2="1136.90" y2="1018.60" stroke="#000" stroke-width="2.1" stroke-linecap="round"/>
<line x1="1125.90" y1="1057.00" x2="1136.90" y2="1057.00" stroke="#000" stroke-width="2.1" stroke-linecap="round"/>
<text transform="translate(1131.90,1009.00) scale(1,1.08)" font-family='"Liberation Serif", serif' font-size="16.8" text-anchor="middle">C</text>
<text transform="translate(1106.05,1140.80) scale(1.06,1)" font-family='"Liberation Sans", sans-serif' font-size="24" text-anchor="middle">5<tspan font-size="25.6">d</tspan></text>
<line x1="1173.60" y1="1049.60" x2="1173.60" y2="1072.50" stroke="#000" stroke-width="2.1"/>
<line x1="1168.10" y1="1049.60" x2="1179.10" y2="1049.60" stroke="#000" stroke-width="2.1" stroke-linecap="round"/>
<line x1="1168.10" y1="1072.50" x2="1179.10" y2="1072.50" stroke="#000" stroke-width="2.1" stroke-linecap="round"/>
<text transform="translate(1173.40,1039.70) scale(1,1.08)" font-family='"Liberation Serif", serif' font-size="16.8" text-anchor="middle">C</text>
<line x1="1190.50" y1="991.50" x2="1190.50" y2="1055.50" stroke="#000" stroke-width="2.1"/>
<line x1="1185.00" y1="991.50" x2="1196.00" y2="991.50" stroke="#000" stroke-width="2.1" stroke-linecap="round"/>
<line x1="1185.00" y1="1055.50" x2="1196.00" y2="1055.50" stroke="#000" stroke-width="2.1" stroke-linecap="round"/>
<text transform="translate(1190.50,986.10) scale(1,1.08)" font-family='"Liberation Serif", serif' font-size="16.8" text-anchor="middle">B</text>
<line x1="1207.40" y1="989.30" x2="1207.40" y2="1073.90" stroke="#000" stroke-width="2.1"/>
<line x1="1201.90" y1="989.30" x2="1212.90" y2="989.30" stroke="#000" stroke-width="2.1" stroke-linecap="round"/>
<line x1="1201.90" y1="1073.90" x2="1212.90" y2="1073.90" stroke="#000" stroke-width="2.1" stroke-linecap="round"/>
<text transform="translate(1210.00,970.90) scale(1,1.08)" font-family='"Liberation Serif", serif' font-size="16.8" text-anchor="middle">DE</text>
<line x1="1224.30" y1="1001.10" x2="1224.30" y2="1062.90" stroke="#000" stroke-width="2.1"/>
<line x1="1218.80" y1="1001.10" x2="1229.80" y2="1001.10" stroke="#000" stroke-width="2.1" stroke-linecap="round"/>
<line x1="1218.80" y1="1062.90" x2="1229.80" y2="1062.90" stroke="#000" stroke-width="2.1" stroke-linecap="round"/>
<text transform="translate(1226.00,995.20) scale(1,1.08)" font-family='"Liberation Serif", serif' font-size="16.8" text-anchor="middle">C</text>
<text transform="translate(1198.95,1140.80) scale(1.06,1)" font-family='"Liberation Sans", sans-serif' font-size="24" text-anchor="middle">6<tspan font-size="25.6">d</tspan></text>
<rect x="1036.60" y="613.80" width="18.90" height="27.40" fill="#636363" stroke="#595959" stroke-width="0.8"/>
<text x="1200.5" y="634.6" font-family='"Liberation Serif", serif' font-size="22.35" text-anchor="end">20 μM AlCl<tspan font-size="15.5" dy="4.5">3</tspan></text>
<rect x="1035.90" y="652.50" width="18.70" height="24.90" fill="#b0b0b0" stroke="#acacac" stroke-width="0.8"/>
<text x="1200.5" y="669.9" font-family='"Liberation Serif", serif' font-size="22.35" text-anchor="end">50 μM AlCl<tspan font-size="15.5" dy="4.5">3</tspan></text>
<rect x="1036.60" y="690.90" width="18.90" height="25.00" fill="#808080" stroke="#757575" stroke-width="0.8"/>
<text x="1200.5" y="711.3" font-family='"Liberation Serif", serif' font-size="22.35" text-anchor="end">100 μM AlCl<tspan font-size="15.5" dy="4.5">3</tspan></text>
<rect x="1035.30" y="729.60" width="18.30" height="27.30" fill="#515151" stroke="#474747" stroke-width="0.8"/>
<text x="1200.5" y="749.6" font-family='"Liberation Serif", serif' font-size="22.35" text-anchor="end">150 μM AlCl<tspan font-size="15.5" dy="4.5">3</tspan></text>
<text transform="translate(4.0,589.0) scale(1.02,1)" font-family='"Liberation Serif", serif' font-size="57" stroke="#000" stroke-width="0.6">b</text>
<text transform="translate(61.2,1056.8) rotate(-90)" font-family='"Liberation Serif", serif' font-size="28.37" text-anchor="start">The relative expression of <tspan font-style="italic">GmGRPL</tspan></text>
</svg>
</body></html>
